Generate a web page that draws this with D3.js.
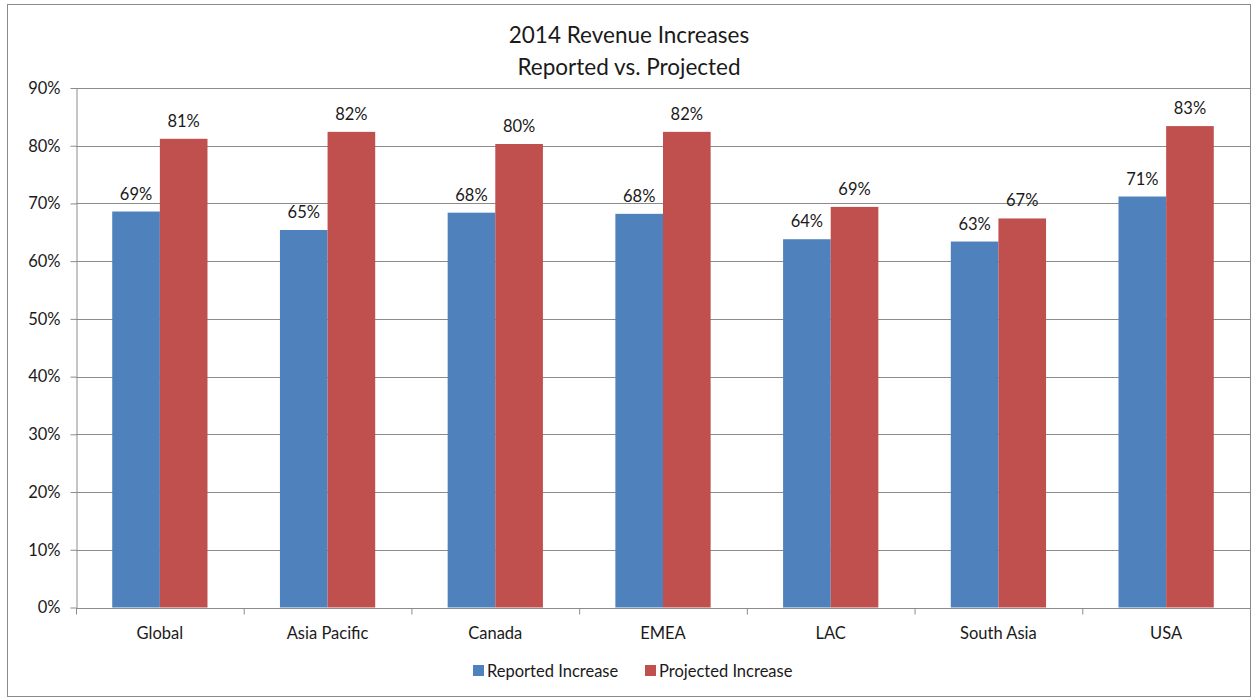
<!DOCTYPE html>
<html>
<head>
<meta charset="utf-8">
<script src="https://cdn.jsdelivr.net/npm/d3@7"></script>
<style>
  html, body { margin: 0; padding: 0; background: #fff; }
  svg { display: block; font-family: Lato, "Open Sans", sans-serif; }
</style>
</head>
<body>
<svg id="chart" width="1252" height="698"></svg>
<script>
// Regions shown along the x axis
const categories = ["Global", "Asia Pacific", "Canada", "EMEA", "LAC", "South Asia", "USA"];
// Revenue increase, percent
const reported  = [68.6, 65.4, 68.4, 68.2, 63.8, 63.4, 71.2];
const projected = [81.2, 82.4, 80.3, 82.4, 69.4, 67.4, 83.4];
const seriesNames = ["Reported Increase", "Projected Increase"];
const yTicks = [0, 10, 20, 30, 40, 50, 60, 70, 80, 90];
const titleLines = ["2014 Revenue Increases", "Reported vs. Projected"];

const colors = ["#4F81BD", "#C0504D"];
const series = [reported, projected];

const svg = d3.select("#chart");
const margin = { left: 76, right: 1250, top: 88, bottom: 607.5 };

// outer frame
svg.append("rect")
  .attr("x", 7.5).attr("y", 4.5)
  .attr("width", 1243).attr("height", 692)
  .attr("fill", "#fff").attr("stroke", "#8a8a8a").attr("stroke-width", 1);

const y = d3.scaleLinear().domain([0, 90]).range([margin.bottom, margin.top]);
const x0 = d3.scaleBand().domain(categories)
  .range([margin.left, margin.right])
  .paddingInner(0.432).paddingOuter(0.216);
const x1 = d3.scaleBand().domain(d3.range(series.length))
  .range([0, x0.bandwidth()]);

// horizontal gridlines
svg.append("g")
  .selectAll("line")
  .data(yTicks.filter(d => d > 0))
  .join("line")
  .attr("x1", margin.left).attr("x2", margin.right)
  .attr("y1", d => Math.round(y(d)) + 0.5).attr("y2", d => Math.round(y(d)) + 0.5)
  .attr("stroke", "#8c8c8c").attr("stroke-width", 1);

// y axis
const yAxis = svg.append("g")
  .attr("transform", `translate(${margin.left + 0.5},0)`)
  .call(d3.axisLeft(y).tickValues(yTicks).tickFormat(d => d + "%").tickSize(6).tickSizeOuter(0));
yAxis.select(".domain").attr("stroke", "#8c8c8c");
yAxis.selectAll(".tick line").attr("stroke", "#8c8c8c");
yAxis.selectAll(".tick text")
  .attr("x", -16).attr("font-size", 16.5).attr("fill", "#1a1a1a")
  .attr("font-family", "Lato, sans-serif");

// x axis with tick marks at category boundaries
const xAxisG = svg.append("g")
  .attr("transform", `translate(0,${Math.round(margin.bottom) + 0.5})`);
xAxisG.append("line")
  .attr("x1", margin.left).attr("x2", margin.right)
  .attr("stroke", "#8c8c8c");
const step = x0.step();
xAxisG.selectAll("line.tk")
  .data(d3.range(categories.length + 1))
  .join("line").attr("class", "tk")
  .attr("x1", i => margin.left + i * step + 0.5)
  .attr("x2", i => margin.left + i * step + 0.5)
  .attr("y1", 0).attr("y2", 6)
  .attr("stroke", "#8c8c8c");
xAxisG.selectAll("text")
  .data(categories)
  .join("text")
  .attr("x", d => x0(d) + x0.bandwidth() / 2)
  .attr("y", 30)
  .attr("text-anchor", "middle")
  .attr("font-size", 16.5).attr("fill", "#1a1a1a")
  .text(d => d);

// bars
const groups = svg.append("g")
  .selectAll("g")
  .data(categories)
  .join("g")
  .attr("transform", d => `translate(${x0(d)},0)`);

groups.selectAll("rect")
  .data((d, i) => series.map((s, k) => ({ k, v: s[i] })))
  .join("rect")
  .attr("x", d => x1(d.k))
  .attr("width", x1.bandwidth())
  .attr("y", d => y(d.v))
  .attr("height", d => y(0) - y(d.v))
  .attr("fill", d => colors[d.k]);

// value labels
groups.selectAll("text")
  .data((d, i) => series.map((s, k) => ({ k, v: s[i] })))
  .join("text")
  .attr("x", d => x1(d.k) + x1.bandwidth() / 2)
  .attr("y", d => y(d.v) - 12)
  .attr("text-anchor", "middle")
  .attr("font-size", 16.5).attr("fill", "#1a1a1a")
  .text(d => Math.round(d.v) + "%");

// title
svg.append("g").selectAll("text")
  .data(titleLines)
  .join("text")
  .attr("x", 629)
  .attr("y", (d, i) => 43 + i * 32)
  .attr("text-anchor", "middle")
  .attr("font-size", 22.5).attr("fill", "#1a1a1a")
  .text(d => d);

// legend
const legendX = [473, 645];
const legend = svg.append("g").selectAll("g")
  .data(seriesNames)
  .join("g")
  .attr("transform", (d, i) => `translate(${legendX[i]},665)`);
legend.append("rect")
  .attr("width", 11).attr("height", 11)
  .attr("fill", (d, i) => colors[i]);
legend.append("text")
  .attr("x", 14).attr("y", 12)
  .attr("font-size", 16.5).attr("fill", "#1a1a1a")
  .text(d => d);
</script>
</body>
</html>
